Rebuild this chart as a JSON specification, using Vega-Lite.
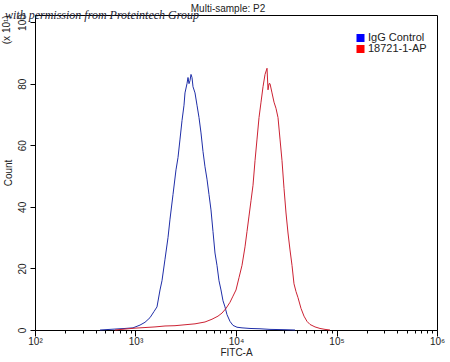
{
  "$schema": "https://vega.github.io/schema/vega-lite/v6.json",
  "width": 402,
  "height": 315,
  "autosize": {"type": "none"},
  "padding": {"left": 35, "top": 15, "right": 13, "bottom": 32},
  "background": "white",
  "title": {"text": "Multi-sample: P2", "fontSize": 10, "fontWeight": "normal", "font": "Liberation Sans", "color": "#222", "offset": 3, "anchor": "middle", "dx": -8, "dy": 8},
  "config": {
    "view": {"stroke": "#000", "strokeWidth": 1},
    "axis": {"labelFont": "Liberation Sans", "titleFont": "Liberation Sans", "labelColor": "#222", "titleColor": "#222", "domainColor": "#000", "tickColor": "#000", "grid": false, "titleFontWeight": "normal", "labelFontSize": 10, "titleFontSize": 10}
  },
  "datasets": {
    "curves": [
      {"series": "IgG Control", "fitc": 444, "count": 0},
      {"series": "IgG Control", "fitc": 625, "count": 0.3},
      {"series": "IgG Control", "fitc": 786, "count": 0.5},
      {"series": "IgG Control", "fitc": 944, "count": 0.7},
      {"series": "IgG Control", "fitc": 1109, "count": 1.6},
      {"series": "IgG Control", "fitc": 1243, "count": 2.5},
      {"series": "IgG Control", "fitc": 1394, "count": 4},
      {"series": "IgG Control", "fitc": 1528, "count": 6},
      {"series": "IgG Control", "fitc": 1636, "count": 7.5},
      {"series": "IgG Control", "fitc": 1753, "count": 13},
      {"series": "IgG Control", "fitc": 1835, "count": 16},
      {"series": "IgG Control", "fitc": 1966, "count": 23},
      {"series": "IgG Control", "fitc": 2106, "count": 30},
      {"series": "IgG Control", "fitc": 2205, "count": 36},
      {"series": "IgG Control", "fitc": 2362, "count": 44},
      {"series": "IgG Control", "fitc": 2529, "count": 52},
      {"series": "IgG Control", "fitc": 2648, "count": 56},
      {"series": "IgG Control", "fitc": 2773, "count": 62},
      {"series": "IgG Control", "fitc": 2902, "count": 68},
      {"series": "IgG Control", "fitc": 3039, "count": 73},
      {"series": "IgG Control", "fitc": 3108, "count": 77},
      {"series": "IgG Control", "fitc": 3254, "count": 80},
      {"series": "IgG Control", "fitc": 3330, "count": 82},
      {"series": "IgG Control", "fitc": 3407, "count": 80},
      {"series": "IgG Control", "fitc": 3486, "count": 81},
      {"series": "IgG Control", "fitc": 3567, "count": 83},
      {"series": "IgG Control", "fitc": 3650, "count": 82},
      {"series": "IgG Control", "fitc": 3734, "count": 79},
      {"series": "IgG Control", "fitc": 3909, "count": 77},
      {"series": "IgG Control", "fitc": 4092, "count": 73},
      {"series": "IgG Control", "fitc": 4284, "count": 69},
      {"series": "IgG Control", "fitc": 4485, "count": 64},
      {"series": "IgG Control", "fitc": 4695, "count": 58},
      {"series": "IgG Control", "fitc": 4915, "count": 53},
      {"series": "IgG Control", "fitc": 5145, "count": 49},
      {"series": "IgG Control", "fitc": 5386, "count": 44},
      {"series": "IgG Control", "fitc": 5639, "count": 39},
      {"series": "IgG Control", "fitc": 5903, "count": 32},
      {"series": "IgG Control", "fitc": 6180, "count": 25},
      {"series": "IgG Control", "fitc": 6469, "count": 21},
      {"series": "IgG Control", "fitc": 6772, "count": 16},
      {"series": "IgG Control", "fitc": 7090, "count": 13},
      {"series": "IgG Control", "fitc": 7422, "count": 9.5},
      {"series": "IgG Control", "fitc": 7770, "count": 7.5},
      {"series": "IgG Control", "fitc": 8134, "count": 5},
      {"series": "IgG Control", "fitc": 8714, "count": 2.8},
      {"series": "IgG Control", "fitc": 9335, "count": 1.5},
      {"series": "IgG Control", "fitc": 10233, "count": 0.9},
      {"series": "IgG Control", "fitc": 11475, "count": 0.7},
      {"series": "IgG Control", "fitc": 13784, "count": 0.5},
      {"series": "IgG Control", "fitc": 17331, "count": 0.4},
      {"series": "IgG Control", "fitc": 21793, "count": 0.2},
      {"series": "IgG Control", "fitc": 30728, "count": 0.1},
      {"series": "IgG Control", "fitc": 38638, "count": 0},
      {"series": "18721-1-AP", "fitc": 625, "count": 0},
      {"series": "18721-1-AP", "fitc": 786, "count": 0.3},
      {"series": "18721-1-AP", "fitc": 989, "count": 0.6},
      {"series": "18721-1-AP", "fitc": 1243, "count": 0.8},
      {"series": "18721-1-AP", "fitc": 1563, "count": 1.0},
      {"series": "18721-1-AP", "fitc": 1966, "count": 1.3},
      {"series": "18721-1-AP", "fitc": 2472, "count": 1.4},
      {"series": "18721-1-AP", "fitc": 3108, "count": 1.7},
      {"series": "18721-1-AP", "fitc": 3909, "count": 2.0},
      {"series": "18721-1-AP", "fitc": 4915, "count": 2.6},
      {"series": "18721-1-AP", "fitc": 5770, "count": 3.5},
      {"series": "18721-1-AP", "fitc": 6620, "count": 4.5},
      {"series": "18721-1-AP", "fitc": 7255, "count": 5.5},
      {"series": "18721-1-AP", "fitc": 7951, "count": 7},
      {"series": "18721-1-AP", "fitc": 8714, "count": 9},
      {"series": "18721-1-AP", "fitc": 9335, "count": 11},
      {"series": "18721-1-AP", "fitc": 10000, "count": 13},
      {"series": "18721-1-AP", "fitc": 10713, "count": 17},
      {"series": "18721-1-AP", "fitc": 11475, "count": 21},
      {"series": "18721-1-AP", "fitc": 12290, "count": 27},
      {"series": "18721-1-AP", "fitc": 12867, "count": 32},
      {"series": "18721-1-AP", "fitc": 13472, "count": 37},
      {"series": "18721-1-AP", "fitc": 14105, "count": 42},
      {"series": "18721-1-AP", "fitc": 14767, "count": 47},
      {"series": "18721-1-AP", "fitc": 15460, "count": 55},
      {"series": "18721-1-AP", "fitc": 16186, "count": 62},
      {"series": "18721-1-AP", "fitc": 16946, "count": 69},
      {"series": "18721-1-AP", "fitc": 17741, "count": 74},
      {"series": "18721-1-AP", "fitc": 18574, "count": 79},
      {"series": "18721-1-AP", "fitc": 19446, "count": 83},
      {"series": "18721-1-AP", "fitc": 20359, "count": 85},
      {"series": "18721-1-AP", "fitc": 20826, "count": 78},
      {"series": "18721-1-AP", "fitc": 21306, "count": 80},
      {"series": "18721-1-AP", "fitc": 21793, "count": 80},
      {"series": "18721-1-AP", "fitc": 22818, "count": 77},
      {"series": "18721-1-AP", "fitc": 23884, "count": 74},
      {"series": "18721-1-AP", "fitc": 25003, "count": 72},
      {"series": "18721-1-AP", "fitc": 26177, "count": 69},
      {"series": "18721-1-AP", "fitc": 27406, "count": 62},
      {"series": "18721-1-AP", "fitc": 28692, "count": 55},
      {"series": "18721-1-AP", "fitc": 30040, "count": 46},
      {"series": "18721-1-AP", "fitc": 31444, "count": 38},
      {"series": "18721-1-AP", "fitc": 32920, "count": 31.5},
      {"series": "18721-1-AP", "fitc": 34465, "count": 26},
      {"series": "18721-1-AP", "fitc": 36080, "count": 21},
      {"series": "18721-1-AP", "fitc": 37760, "count": 15},
      {"series": "18721-1-AP", "fitc": 39537, "count": 12.5},
      {"series": "18721-1-AP", "fitc": 41393, "count": 10.5},
      {"series": "18721-1-AP", "fitc": 44360, "count": 7},
      {"series": "18721-1-AP", "fitc": 47500, "count": 4.5},
      {"series": "18721-1-AP", "fitc": 50875, "count": 2.8},
      {"series": "18721-1-AP", "fitc": 54500, "count": 1.8},
      {"series": "18721-1-AP", "fitc": 61120, "count": 1},
      {"series": "18721-1-AP", "fitc": 68500, "count": 0.5},
      {"series": "18721-1-AP", "fitc": 76850, "count": 0.2},
      {"series": "18721-1-AP", "fitc": 86150, "count": 0}
    ]
  },
  "layer": [
    {
      "data": {"name": "curves"},
      "mark": {"type": "line", "strokeWidth": 1, "interpolate": "linear"},
      "encoding": {
        "x": {
          "field": "fitc", "type": "quantitative",
          "scale": {"type": "log", "domain": [100, 1000000], "nice": false},
          "axis": {
            "title": "FITC-A",
            "values": [100,200,300,400,500,600,700,800,900,1000,2000,3000,4000,5000,6000,7000,8000,9000,10000,20000,30000,40000,50000,60000,70000,80000,90000,100000,200000,300000,400000,500000,600000,700000,800000,900000,1000000],
            "labelExpr": "datum.value == 100 ? '10²' : datum.value == 1000 ? '10³' : datum.value == 10000 ? '10⁴' : datum.value == 100000 ? '10⁵' : datum.value == 1000000 ? '10⁶' : ''",
            "tickSize": {"condition": {"test": "indexof([100,1000,10000,100000,1000000], datum.value) >= 0", "value": 6}, "value": 3},
            "labelPadding": 0,
            "labelFlush": false,
            "labelOverlap": false,
            "titlePadding": 1
          }
        },
        "y": {
          "field": "count", "type": "quantitative",
          "scale": {"domain": [0, 102.3], "nice": false, "zero": true},
          "axis": {
            "title": "Count",
            "values": [0,5,10,15,20,25,30,35,40,45,50,55,60,65,70,75,80,85,90,95,100],
            "labelExpr": "datum.value % 20 == 0 ? datum.label : ''",
            "tickSize": {"condition": {"test": "datum.value % 20 == 0", "value": 5}, "value": 3},
            "labelAngle": 270,
            "labelAlign": "center",
            "labelBaseline": "bottom",
            "labelPadding": 3,
            "labelOverlap": false,
            "titlePadding": 4
          }
        },
        "stroke": {
          "field": "series", "type": "nominal",
          "scale": {"domain": ["IgG Control", "18721-1-AP"], "range": ["#1f2ea8", "#cc2233"]},
          "legend": {
            "title": null,
            "orient": "none",
            "legendX": 320,
            "legendY": 18,
            "symbolType": "square",
            "symbolSize": 64,
            "symbolStrokeWidth": 0,
            "labelFont": "Liberation Sans",
            "labelFontSize": 11,
            "labelColor": "#222",
            "labelOffset": 2,
            "rowPadding": 0,
            "clipHeight": 10,
            "encode": {
              "symbols": {
                "update": {
                  "fill": {"signal": "datum.value == 'IgG Control' ? '#0000ff' : '#ff0000'"},
                  "fillOpacity": {"value": 1},
                  "stroke": {"value": "transparent"},
                  "opacity": {"value": 1}
                }
              }
            }
          }
        }
      }
    },
    {
      "data": {"values": [{"note": "with permission from Proteintech Group"}]},
      "mark": {"type": "text", "font": "Liberation Serif", "fontStyle": "italic", "fontSize": 12, "align": "left", "baseline": "middle", "dx": -30, "color": "#223", "clip": false},
      "encoding": {
        "x": {"datum": 100, "type": "quantitative"},
        "y": {"datum": 102.3, "type": "quantitative"},
        "text": {"field": "note"}
      }
    },
    {
      "data": {"values": [{"note": "(x 10¹)"}]},
      "mark": {"type": "text", "font": "Liberation Sans", "fontSize": 10, "angle": 270, "align": "center", "baseline": "middle", "dy": -28, "color": "#222", "clip": false},
      "encoding": {
        "x": {"datum": 100, "type": "quantitative"},
        "y": {"datum": 97.5, "type": "quantitative"},
        "text": {"field": "note"}
      }
    }
  ]
}
